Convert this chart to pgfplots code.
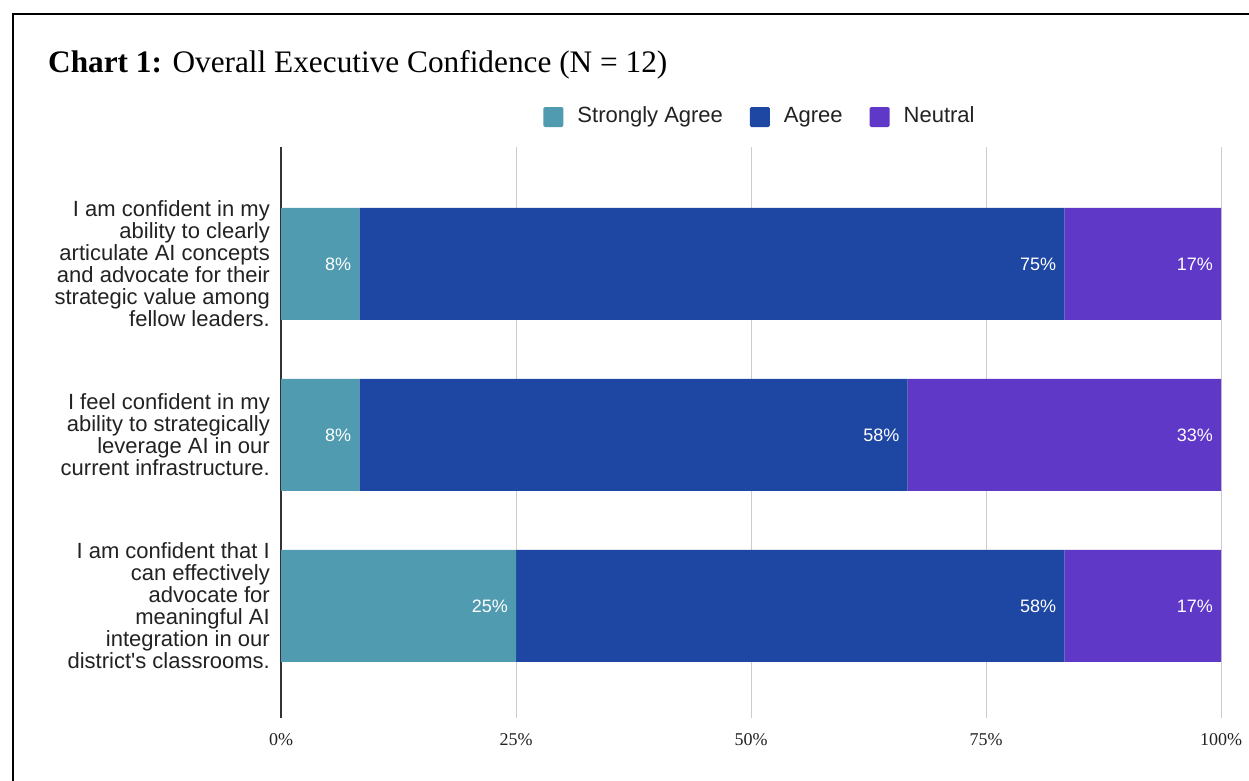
\documentclass[border=0pt]{standalone}
\usepackage{fontspec}
\setmainfont{Liberation Serif}
\setsansfont{Liberation Sans}
\usepackage{pgfplots}
\usepackage{pgfplotstable}
\pgfplotsset{compat=1.18}
\definecolor{sacol}{HTML}{509BB0}
\definecolor{acol}{HTML}{1E46A3}
\definecolor{ncol}{HTML}{5F38C8}
\definecolor{gridgrey}{HTML}{CCCCCC}
\definecolor{axisdark}{HTML}{333333}
\definecolor{txt}{HTML}{222222}
\newcommand\sz[2]{\fontsize{#1bp}{#2bp}\selectfont}
\pgfplotstableread{
y sa sal a al n nl
2 8.333 8 75 75 16.667 17
1 8.333 8 58.333 58 33.333 33
0 25 25 58.333 58 16.667 17
}\data
\begin{document}
\begin{tikzpicture}
\useasboundingbox (0,0) rectangle (1249bp,781bp);
\fill[white] (0,0) rectangle (1249bp,781bp);
\draw[line width=2.5bp, black] (13bp,-2bp) -- (13bp,767bp) -- (1252bp,767bp);
\node[anchor=base west, inner sep=0pt, font=\rmfamily\sz{31.3}{31.3}, text=black] at (48bp,708bp) {\textbf{Chart 1:} Overall Executive Confidence (N = 12)};
\begin{axis}[
  at={(281bp,63bp)}, anchor=south west,
  scale only axis, width=940bp, height=571bp,
  xbar stacked, bar width=112bp,
  xmin=0, xmax=100, ymin=-0.655, ymax=2.684,
  enlargelimits=false,
  axis line style={draw=none},
  xtick={25,50,75,100},
  extra x ticks={0},
  extra x tick style={grid=major, major grid style={draw=axisdark, line width=1.3bp}},
  xmajorgrids,
  major grid style={draw=gridgrey, line width=1bp},
  major tick length=0pt,
  /pgf/number format/assume math mode=true,
  xticklabel={\pgfmathprintnumber{\tick}\%},
  xticklabel style={font=\rmfamily\sz{18}{18}, text=txt, yshift=-12bp},
  ytick={0,1,2},
  yticklabels={
    {I am confident that I\\can effectively\\advocate for\\meaningful AI\\integration in our\\district\textquotesingle s classrooms.},
    {I feel confident in my\\ability to strategically\\leverage AI in our\\current infrastructure.},
    {I am confident in my\\ability to clearly\\articulate AI concepts\\and advocate for their\\strategic value among\\fellow leaders.}
  },
  yticklabel style={font=\sffamily\sz{22}{22}, text=txt, align=right, anchor=east, inner sep=0pt, xshift=-11bp},
  nodes near coords={\pgfplotspointmeta\%},
  every node near coord/.append style={font=\sffamily\sz{18}{18}, text=white, anchor=east, inner sep=0pt, xshift={\seg*4.7bp-8bp}},
  legend columns=3,
  legend style={at={(0.5096,1.0525)}, anchor=center, draw=none, fill=none,
    font=\sffamily\sz{22}{22}, text=txt,
    nodes={text height=16bp, text depth=4.5bp},
    /tikz/every even column/.append style={column sep=25bp}},
  legend cell align=left,
  legend image code/.code={\draw[#1, draw=none, rounded corners=1.5bp] (0bp,-10bp) rectangle (20bp,10bp); \path (32bp,0bp);},
]
\addplot[fill=sacol, draw=none, point meta=explicit symbolic, visualization depends on={\thisrow{sa}\as\seg}] table[x=sa, y=y, meta=sal] {\data};
\addplot[fill=acol, draw=none, point meta=explicit symbolic, visualization depends on={\thisrow{a}\as\seg}] table[x=a, y=y, meta=al] {\data};
\addplot[fill=ncol, draw=none, point meta=explicit symbolic, visualization depends on={\thisrow{n}\as\seg}] table[x=n, y=y, meta=nl] {\data};
\legend{Strongly Agree, Agree, Neutral}
\end{axis}
\end{tikzpicture}
\end{document}
